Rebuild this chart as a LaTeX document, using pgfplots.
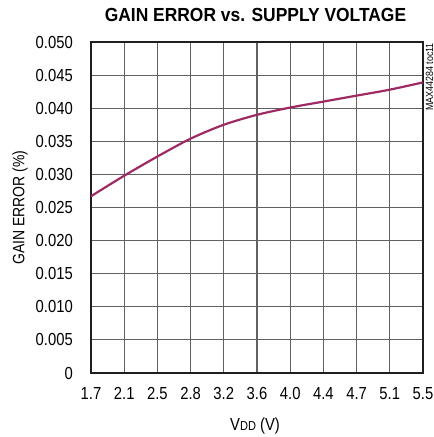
\documentclass[border=0pt]{standalone}
\usepackage{pgfplots}
\pgfplotsset{compat=1.18}
\usepackage{fontspec}
\setmainfont{Liberation Sans}
\newfontfamily\tickfont{Liberation Sans}[FakeStretch=0.85]
\newfontfamily\titlefont{Liberation Sans}[FakeStretch=0.92]
\definecolor{curve}{RGB}{158,42,100}
\begin{document}
\begin{tikzpicture}
\begin{axis}[
  name=ax,
  scale only axis,
  width=332bp, height=331bp,
  xmin=1.7, xmax=5.5, ymin=0, ymax=0.05,
  scaled y ticks=false,
  xtick={1.7,2.08,2.46,2.84,3.22,3.6,3.98,4.36,4.74,5.12,5.5},
  xticklabels={1.7,2.1,2.5,2.8,3.2,3.6,4.0,4.4,4.7,5.1,5.5},
  ytick={0,0.005,0.01,0.015,0.02,0.025,0.03,0.035,0.04,0.045,0.05},
  yticklabels={0,0.005,0.010,0.015,0.020,0.025,0.030,0.035,0.040,0.045,0.050},
  major tick length=0pt,
  grid=major,
  grid style={line width=1.1pt, color=black!62},
  axis line style={line width=2.8pt, color=black!88},
  tick label style={font=\tickfont\fontsize{17.5}{20}\selectfont, inner sep=0pt},
  xticklabel style={yshift=-14bp},
  yticklabel style={xshift=-18bp},
  clip=false,
]
\addplot[curve, line width=2.2pt, smooth] coordinates {
(1.7,0.0267) (2.08,0.0298) (2.46,0.0327) (2.84,0.0354) (3.22,0.0375) (3.6,0.0390) (3.98,0.0401) (4.36,0.0410) (4.74,0.0419) (5.12,0.0428) (5.5,0.0439)
};
\node[font=\titlefont\fontsize{19}{22}\selectfont\bfseries, inner sep=0pt] at ([yshift=27bp, xshift=-1.5bp]rel axis cs:0.5,1) {GAIN ERROR vs. SUPPLY VOLTAGE};
\node[font=\tickfont\fontsize{17.5}{20}\selectfont, inner sep=0pt] at ([yshift=-53bp, xshift=-2bp]rel axis cs:0.5,0) {V{\fontsize{13}{15}\selectfont DD} (V)};
\node[rotate=90, font=\tickfont\fontsize{16.5}{19}\selectfont, inner sep=0pt] at ([xshift=-71bp]rel axis cs:0,0.5) {GAIN ERROR (\%)};
\node[rotate=90, anchor=east, font=\tickfont\fontsize{10.5}{12}\selectfont, inner sep=0pt] at ([xshift=6.5bp, yshift=-1bp]rel axis cs:1,1) {MAX44284 toc11};
\end{axis}
\pgfresetboundingbox
\path ([xshift=-91bp,yshift=-64bp]ax.south west) rectangle ([xshift=11bp,yshift=42bp]ax.north east);
\end{tikzpicture}
\end{document}
